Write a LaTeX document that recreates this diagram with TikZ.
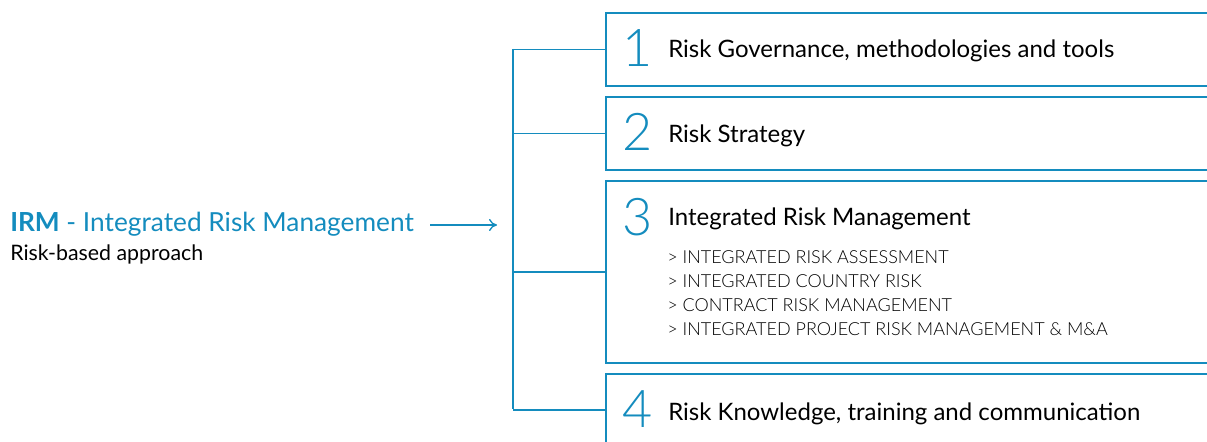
\documentclass[tikz,border=0pt]{standalone}
\usepackage{fontspec}
\setmainfont{Lato}
\newfontfamily\lightfont{Lato Light}
\usetikzlibrary{arrows.meta}
\definecolor{irmblue}{RGB}{20,140,190}

\begin{document}
\begin{tikzpicture}[x=0.75pt, y=-0.75pt,
        box/.style={draw=irmblue, line width=1.5pt, anchor=north west, minimum width=480pt, inner sep=0pt},
        link/.style={irmblue, line width=1pt},
        num/.style={font=\lightfont\fontsize{39}{39}\selectfont, text=irmblue, anchor=base, inner sep=0pt},
        title/.style={font=\fontsize{18}{21}\selectfont, anchor=base west, inner sep=0pt},
        item/.style={font=\lightfont\fontsize{13.5}{16}\selectfont, anchor=base west, inner sep=0pt}]
        \useasboundingbox (0, 0) rectangle (1207, 442);
        \clip (0, 0) rectangle (1207, 442);

        \node[anchor=base west, inner sep=0pt, text=irmblue, font=\fontsize{19.7}{24}\selectfont] (irm) at (10, 232) {\textbf{IRM} - Integrated Risk Management};
        \node[anchor=base west, inner sep=0pt, font=\fontsize{16}{19}\selectfont] (rba) at (10, 260) {Risk-based approach};

        \node[box, minimum height=54.75pt] (b1) at (605, 12) {};
        \node[box, minimum height=54.75pt] (b2) at (605, 96) {};
        \node[box, minimum height=136.5pt] (b3) at (605, 180) {};
        \node[box, minimum height=54pt] (b4) at (605, 373) {};

        \node[num] (n1) at (638, 67) {1};
        \node[num] (n2) at (638, 151) {2};
        \node[num] (n3) at (638, 235) {3};
        \node[num] (n4) at (638, 427) {4};

        \node[title] (t1) at (668, 58) {Risk Governance, methodologies and tools};
        \node[title] (t2) at (668, 143) {Risk Strategy};
        \node[title] (t3) at (668, 225) {Integrated Risk Management};
        \node[title] (t4) at (668, 420) {Risk Knowledge, training and communication};

        \node[item] (i1) at (667, 263) {> INTEGRATED RISK ASSESSMENT};
        \node[item] (i2) at (667, 287) {> INTEGRATED COUNTRY RISK};
        \node[item] (i3) at (667, 311) {> CONTRACT RISK MANAGEMENT};
        \node[item] (i4) at (667, 335) {> INTEGRATED PROJECT RISK MANAGEMENT \& M\&A};

        \coordinate (top) at (513, 49);
        \coordinate (bot) at (513, 409);
        \coordinate (tip) at (497, 225);
        \draw[link] (top) -- (bot);
        \draw[link] (b1.west) -- (b1.west -| top);
        \draw[link] (b2.west) -- (b2.west -| top);
        \draw[link] (b3.west) -- (b3.west -| top);
        \draw[link] (b4.west) -- (b4.west -| top);
        \draw[link, -{To[length=6pt, width=9pt]}] ([xshift=12pt] irm.east |- tip) -- (tip);
    \end{tikzpicture}
\end{document}
